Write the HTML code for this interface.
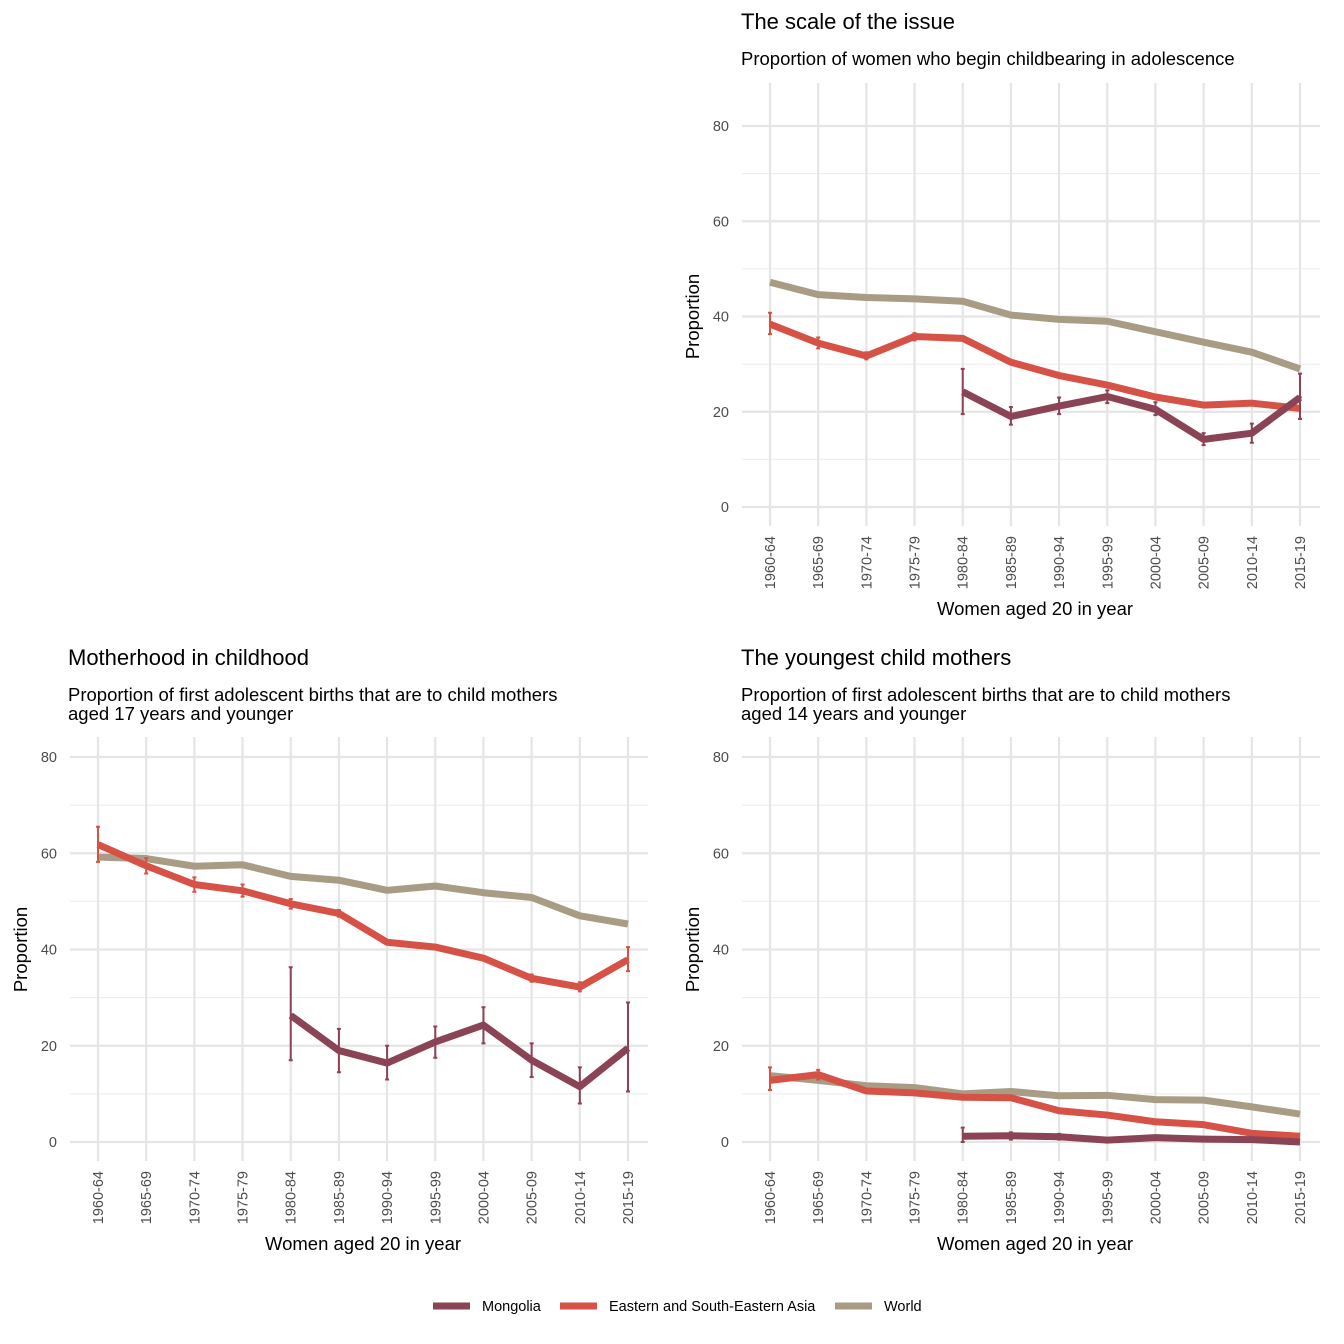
<!DOCTYPE html>
<html><head><meta charset="utf-8">
<style>
body{margin:0;background:#fff;}
svg{display:block;font-family:"Liberation Sans",Arial,sans-serif;}
</style></head>
<body>
<svg id="chart" width="1344" height="1344" viewBox="0 0 1344 1344" xmlns="http://www.w3.org/2000/svg"></svg>
<script>
const categories=["1960-64","1965-69","1970-74","1975-79","1980-84","1985-89","1990-94","1995-99","2000-04","2005-09","2010-14","2015-19"];
const yTicks=[0,20,40,60,80];
// Panel 1: scale of issue
const p1World=[47.2,44.6,44.0,43.7,43.2,40.3,39.4,39.0,36.8,34.6,32.5,29.0];
const p1Asia=[38.4,34.4,31.7,35.8,35.4,30.4,27.6,25.6,23.1,21.4,21.8,20.7];
const p1AsiaLo=[36.3,33.3,31.0,35.0,null,null,null,null,null,null,null,18.5];
const p1AsiaHi=[40.8,35.6,32.5,36.5,null,null,null,null,null,null,null,23.0];
const p1Mong=[null,null,null,null,24.2,19.0,21.2,23.2,20.5,14.2,15.5,23.0];
const p1MongLo=[null,null,null,null,19.5,17.3,19.5,21.8,19.3,13.0,13.5,18.5];
const p1MongHi=[null,null,null,null,29.0,21.0,23.0,24.5,22.0,15.5,17.5,28.0];
// Panel 2: motherhood in childhood
const p2World=[59.2,58.9,57.3,57.6,55.2,54.4,52.3,53.2,51.8,50.8,47.0,45.3];
const p2Asia=[61.8,57.4,53.5,52.2,49.5,47.5,41.5,40.5,38.2,34.0,32.2,37.9];
const p2AsiaLo=[58.2,55.8,52.0,51.0,48.5,46.8,null,null,null,33.3,31.3,35.5];
const p2AsiaHi=[65.5,59.0,55.0,53.5,50.5,48.2,null,null,null,34.8,33.2,40.5];
const p2Mong=[null,null,null,null,26.3,19.0,16.4,20.8,24.3,17.0,11.5,19.5];
const p2MongLo=[null,null,null,null,17.0,14.5,13.0,17.5,20.5,13.5,8.0,10.5];
const p2MongHi=[null,null,null,null,36.3,23.5,20.0,24.0,28.0,20.5,15.5,29.0];
// Panel 3: youngest child mothers
const p3World=[13.8,12.8,11.7,11.3,10.0,10.5,9.6,9.7,8.8,8.7,7.3,5.8];
const p3Asia=[12.8,14.0,10.6,10.2,9.3,9.2,6.5,5.6,4.2,3.6,1.8,1.2];
const p3AsiaLo=[10.8,13.0,null,null,null,null,null,null,null,null,null,null];
const p3AsiaHi=[15.5,15.0,null,null,null,null,null,null,null,null,null,null];
const p3Mong=[null,null,null,null,1.2,1.3,1.1,0.4,0.9,0.6,0.5,0.0];
const p3MongLo=[null,null,null,null,0.0,0.5,0.5,null,null,null,null,null];
const p3MongHi=[null,null,null,null,3.0,2.0,1.7,null,null,null,null,null];

const NS="http://www.w3.org/2000/svg";
const svg=document.getElementById("chart");
const C={m:"#8B4356",a:"#D65246",w:"#A89C84"};
function mk(tag,attrs,parent,txt){const e=document.createElementNS(NS,tag);for(const k in attrs)e.setAttribute(k,attrs[k]);if(txt!==undefined)e.textContent=txt;(parent||svg).appendChild(e);return e;}

function panel(cfg){
  const g=mk("g",{});
  
  
  const x0=cfg.x0,x1=cfg.x1,y0=cfg.y0,y80=cfg.y80;
  const step=(x1-x0)/(categories.length-1);
  const xs=i=>x0+i*step;
  const ys=v=>y0+(y80-y0)*v/80;
  const top=cfg.top,bot=cfg.bot,left=x0-28,right=x1+20;
  [10,30,50,70].forEach(v=>{const l=mk("line",{x1:left,x2:right,y1:ys(v),y2:ys(v),stroke:"#ebebeb","stroke-width":1.1},g);});
  yTicks.forEach(v=>{
    const l=mk("line",{x1:left,x2:right,y1:ys(v),y2:ys(v),stroke:"#e5e5e5","stroke-width":2.2},g);
    
    
    const t=mk("text",{x:x0-41,y:ys(v)+5,"text-anchor":"end","font-size":14.5,fill:"#4d4d4d"},g,String(v));
    
    
  });
  categories.forEach((c,i)=>{
    const l=mk("line",{x1:xs(i),x2:xs(i),y1:top,y2:bot,stroke:"#e5e5e5","stroke-width":2.2},g);
    
    
    const t=mk("text",{x:0,y:0,"text-anchor":"end","font-size":14.5,fill:"#4d4d4d",transform:`translate(${xs(i)+5},${bot+10}) rotate(-90)`},g,c);
    
    
  });
  function series(vals,lo,hi,col,nm){
    let d="";let pen=false;
    vals.forEach((v,i)=>{if(v===null){pen=false;return;}d+=(pen?"L":"M")+xs(i)+","+ys(v);pen=true;});
    const p=mk("path",{d:d,fill:"none",stroke:col,"stroke-width":7,"stroke-linejoin":"round"},g);
    
    
    if(lo) lo.forEach((l,i)=>{if(l===null||hi[i]===null)return;
      const e=mk("path",{d:`M${xs(i)},${ys(l)}V${ys(hi[i])}M${xs(i)-2},${ys(l)}h4M${xs(i)-2},${ys(hi[i])}h4`,stroke:col,"stroke-width":2,fill:"none"},g);
      
      
    });
  }
  series(cfg.w,null,null,C.w,"world");
  series(cfg.a,cfg.aLo,cfg.aHi,C.a,"asia");
  series(cfg.m,cfg.mLo,cfg.mHi,C.m,"mongolia");
  const t1=mk("text",{x:cfg.tx,y:cfg.ty,"font-size":22,fill:"#000"},g,cfg.title);
  
  
  cfg.sub.forEach((s,k)=>{const t=mk("text",{x:cfg.tx,y:cfg.ty+36+k*19,"font-size":18.5,fill:"#000"},g,s);});
  const ya=mk("text",{x:0,y:0,"text-anchor":"middle","font-size":18.5,fill:"#000",transform:`translate(${x0-71},${ys(40)}) rotate(-90)`},g,"Proportion");
  
  
  const xa=mk("text",{x:(x0+x1)/2,y:bot+89,"text-anchor":"middle","font-size":18.5,fill:"#000"},g,"Women aged 20 in year");
  
  
}
panel({name:"panel-scale-of-issue",x0:770,x1:1300,y0:507,y80:126,top:83,bot:526,tx:741,ty:29,title:"The scale of the issue",sub:["Proportion of women who begin childbearing in adolescence"],w:p1World,a:p1Asia,aLo:p1AsiaLo,aHi:p1AsiaHi,m:p1Mong,mLo:p1MongLo,mHi:p1MongHi});
panel({name:"panel-motherhood-in-childhood",x0:98,x1:628,y0:1142,y80:757,top:737,bot:1161,tx:68,ty:665,title:"Motherhood in childhood",sub:["Proportion of first adolescent births that are to child mothers","aged 17 years and younger"],w:p2World,a:p2Asia,aLo:p2AsiaLo,aHi:p2AsiaHi,m:p2Mong,mLo:p2MongLo,mHi:p2MongHi});
panel({name:"panel-youngest-child-mothers",x0:770,x1:1300,y0:1142,y80:757,top:737,bot:1161,tx:741,ty:665,title:"The youngest child mothers",sub:["Proportion of first adolescent births that are to child mothers","aged 14 years and younger"],w:p3World,a:p3Asia,aLo:p3AsiaLo,aHi:p3AsiaHi,m:p3Mong,mLo:p3MongLo,mHi:p3MongHi});

const legendNames=["Mongolia","Eastern and South-Eastern Asia","World"];
const legendCols=[C.m,C.a,C.w];
const legendX=[433,560,835];
const lg=mk("g",{});


legendNames.forEach((n,i)=>{
  const l=mk("line",{x1:legendX[i],x2:legendX[i]+37,y1:1306,y2:1306,stroke:legendCols[i],"stroke-width":7},lg);
  
  
  const t=mk("text",{x:legendX[i]+49,y:1311,"font-size":14.5,fill:"#000"},lg,n);
  
  
});
</script>
</body></html>
